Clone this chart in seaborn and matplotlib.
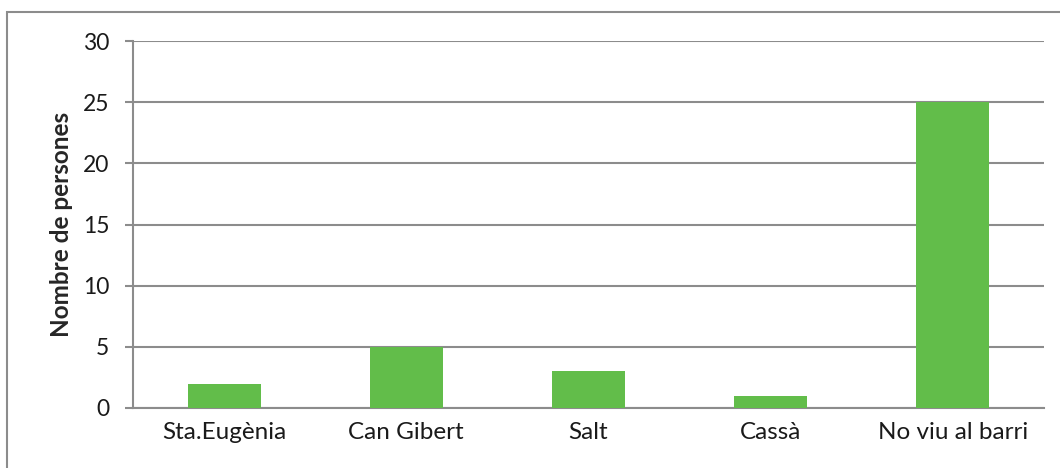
import matplotlib
matplotlib.use("Agg")
import matplotlib.pyplot as plt
import seaborn as sns
import pandas as pd
from matplotlib.patches import Rectangle

categories = ['Sta.Eugènia', 'Can Gibert', 'Salt', 'Cassà', 'No viu al barri']
values = [2, 5, 3, 1, 25]
yticks = [0, 5, 10, 15, 20, 25, 30]

sns.set_style('white')
plt.rcParams['font.family'] = ['Lato', 'DejaVu Sans']

df = pd.DataFrame({'lloc': categories, 'persones': values})

W, H = 1060, 468
fig = plt.figure(figsize=(W / 100, H / 100), dpi=100)
ax = fig.add_axes([133 / W, 60 / H, (1044 - 133) / W, (408 - 41) / H])

sns.barplot(data=df, x='lloc', y='persones', color='#62BD4A', width=0.4,
            saturation=1, linewidth=0, ax=ax, zorder=3)

grey = '#8c8c8c'
ax.set_ylim(0, 30)
ax.set_yticks(yticks)
ax.yaxis.grid(True, color=grey, linewidth=1.5, zorder=0)
ax.set_axisbelow(True)
for s in ['top', 'right']:
    ax.spines[s].set_visible(False)
for s in ['left', 'bottom']:
    ax.spines[s].set_color(grey)
    ax.spines[s].set_linewidth(1.5)

ax.tick_params(axis='y', length=6, width=1.5, color=grey, pad=11, labelsize=16.5,
               left=True)
ax.tick_params(axis='x', length=0, pad=10, labelsize=17.5)
ax.set_xlabel('')
ax.set_ylabel('Nombre de persones', fontsize=17.5, fontweight='bold', labelpad=7)
for lbl in ax.get_xticklabels() + ax.get_yticklabels():
    lbl.set_color('#1a1a1a')

# marc exterior
fig.add_artist(Rectangle((7 / W, -0.1), 1.2, (H - 12) / H + 0.1,
                         transform=fig.transFigure, fill=False,
                         edgecolor=grey, linewidth=1.5))

fig.savefig('out.png', dpi=100)
